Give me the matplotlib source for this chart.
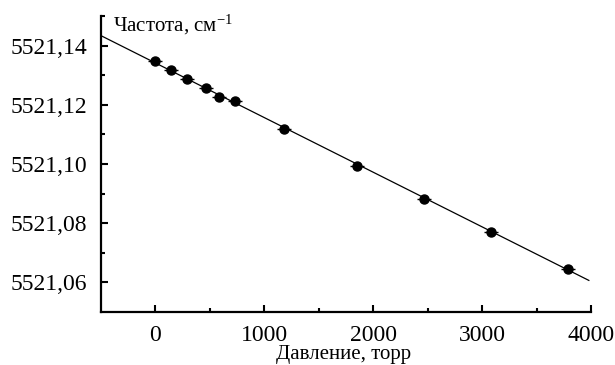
import matplotlib
matplotlib.use("Agg")
import matplotlib.pyplot as plt
from matplotlib.ticker import FixedLocator

plt.rcParams['font.family'] = ['Liberation Serif', 'DejaVu Serif']
plt.rcParams['mathtext.fontset'] = 'custom'
plt.rcParams['mathtext.rm'] = 'Liberation Serif'
plt.rcParams['mathtext.it'] = 'Liberation Serif:italic'

# Data
pressure = [0, 147, 294, 468, 587, 734, 1183, 1853, 2468, 3083, 3789]
frequency = [5521.1349, 5521.1319, 5521.1288, 5521.1258, 5521.1227, 5521.1214,
             5521.1119, 5521.0993, 5521.0881, 5521.0770, 5521.0644]
pressure_err = [65, 65, 65, 65, 65, 65, 65, 65, 65, 65, 65]

fit_x = [-500, 3980]
fit_y = [5521.1434, 5521.0607]

yticks = [5521.06, 5521.08, 5521.10, 5521.12, 5521.14]
ytick_labels = ["5521,06", "5521,08", "5521,10", "5521,12", "5521,14"]
xticks = [0, 1000, 2000, 3000, 4000]
xtick_labels = ["0", "1000", "2000", "3000", "4000"]

fig = plt.figure(figsize=(6.15, 3.65), dpi=100)
ax = fig.add_axes([0.164, 0.145, 0.797, 0.811])

ax.plot(fit_x, fit_y, color='black', lw=0.9)
ax.errorbar(pressure, frequency, xerr=pressure_err, fmt='o', color='black',
            ms=6.5, elinewidth=1.0, capsize=0)

ax.set_xlim(-500, 4000)
ax.set_ylim(5521.05, 5521.15)

ax.set_yticks(yticks)
ax.set_yticklabels(ytick_labels)
ax.set_xticks(xticks)
ax.set_xticklabels(xtick_labels)
ax.yaxis.set_minor_locator(FixedLocator([5521.07, 5521.09, 5521.11, 5521.13, 5521.15]))
ax.xaxis.set_minor_locator(FixedLocator([500, 1500, 2500, 3500]))

for s in ['top', 'right']:
    ax.spines[s].set_visible(False)
for s in ['left', 'bottom']:
    ax.spines[s].set_linewidth(1.6)

ax.tick_params(axis='both', which='major', direction='in', length=5, width=1.5,
               labelsize=17)
ax.tick_params(axis='y', which='major', pad=10)
ax.tick_params(axis='x', which='major', pad=9)
ax.tick_params(axis='both', which='minor', direction='in', length=3, width=1.5)

fig.text(0.183, 0.932, "Частота, см$^{-1}$", fontsize=15, ha='left', va='center')
fig.text(0.559, 0.03, "Давление, торр", fontsize=15, ha='center', va='center')

fig.savefig("out.png", dpi=100)
